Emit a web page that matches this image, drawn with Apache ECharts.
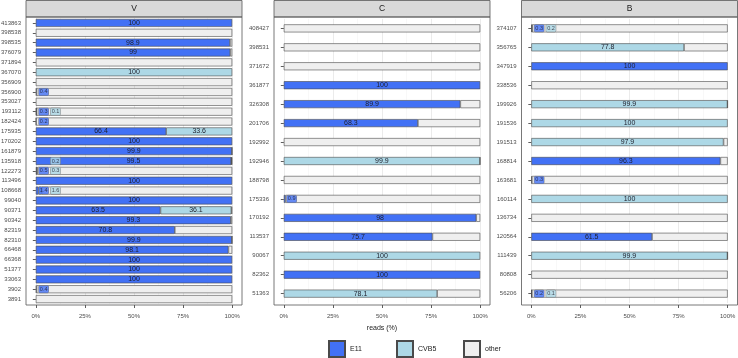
<!DOCTYPE html>
<html>
<head>
<meta charset="utf-8">
<script src="https://cdn.jsdelivr.net/npm/echarts@6/dist/echarts.min.js"></script>
<style>
  html, body { margin: 0; padding: 0; background: #fff; }
  #chart { width: 738px; height: 358px; }
</style>
</head>
<body>
<div id="chart"></div>
<script>
// facet V
const vCats = ['413863', '398538', '398535', '376079', '371894', '367070', '356909', '356900', '353027',
  '193112', '182424', '175935', '170202', '161879', '135918', '122273', '113496', '108668', '99040',
  '90371', '90342', '82319', '82310', '66468', '66368', '51377', '33063', '3902', '3891'];
const vE11 = [100, 0, 98.9, 99, 0, 0, 0, 0.4, 0, 0.3, 0.2, 66.4, 100, 99.9, 99.5, 0.5, 100, 1.4, 100,
  63.5, 99.3, 70.8, 99.9, 98.1, 100, 100, 100, 0.4, 0];
const vCvb5 = [0, 0, 0, 0, 0, 100, 0, 0, 0, 0.1, 0, 33.6, 0, 0, 0.2, 0.3, 0, 1.6, 0,
  36.1, 0, 0, 0, 0, 0, 0, 0, 0, 0];

// facet C
const cCats = ['408427', '398531', '371672', '361877', '326308', '201706', '192992', '192946',
  '188798', '175336', '170192', '113537', '90067', '82362', '51363'];
const cE11 = [0, 0, 0, 100, 89.9, 68.3, 0, 0, 0, 0.9, 98, 75.7, 0, 100, 0];
const cCvb5 = [0, 0, 0, 0, 0, 0, 0, 99.9, 0, 0, 0, 0, 100, 0, 78.1];

// facet B
const bCats = ['374107', '356765', '347919', '338536', '199926', '191536', '191513', '168814',
  '163681', '160114', '136734', '120564', '111439', '80808', '56206'];
const bE11 = [0.3, 0, 100, 0, 0, 0, 0, 96.3, 0.3, 0, 0, 61.5, 0, 0, 0.2];
const bCvb5 = [0.2, 77.8, 0, 0, 99.9, 100, 97.9, 0, 0, 100, 0, 0, 99.9, 0, 0.1];

const facetNames = ['V', 'C', 'B'];

const COL_E11 = '#4271F5';
const COL_CVB5 = '#ADD8E6';
const COL_OTHER = '#EFEFEF';
const BORDER = '#4a4a4a';

// panel boxes in px (left, right); bars span 0..100 inside with 5% padding
const panels = [
  { left: 26, right: 242 },
  { left: 274, right: 490 },
  { left: 521.5, right: 737.5 },
];
const panelTop = 17;
const panelBottom = 305;

const facets = [
  { cats: vCats, e11: vE11, cvb5: vCvb5 },
  { cats: cCats, e11: cE11, cvb5: cCvb5 },
  { cats: bCats, e11: bE11, cvb5: bCvb5 },
];

const grids = [];
const xAxes = [];
const yAxes = [];
const series = [];
const graphics = [];

function nz(v) {
  return v > 0 ? v : '-';
}

function bigLabel(p) {
  return p.value >= 5 ? String(p.value) : '';
}

facets.forEach((f, i) => {
  const pan = panels[i];
  const w = pan.right - pan.left;
  const pxPerUnit = w / 110;
  const n = f.cats.length;
  const h = panelBottom - panelTop;
  const pad = h * 0.1 / (n + 0.2);

  grids.push({
    left: pan.left + 5 * pxPerUnit,
    width: 100 * pxPerUnit,
    top: panelTop + pad,
    height: h - 2 * pad,
    containLabel: false,
    outerBoundsMode: 'none',
  });

  xAxes.push({
    type: 'value',
    gridIndex: i,
    min: 0,
    max: 100,
    interval: 25,
    offset: pad,
    axisLine: { show: false },
    axisTick: { show: true, length: 3, lineStyle: { color: '#333', width: 0.8 } },
    axisLabel: { formatter: '{value}%', fontSize: 6, color: '#4d4d4d', margin: 8, fontFamily: 'Liberation Sans' },
    splitLine: { show: true, lineStyle: { color: '#ebebeb', width: 1 } },
    minorTick: { show: false, splitNumber: 2 },
    minorSplitLine: { show: true, lineStyle: { color: '#f4f4f4', width: 0.6 } },
    name: i === 1 ? 'reads (%)' : '',
    nameLocation: 'middle',
    nameGap: 20,
    nameTextStyle: { fontSize: 7, color: '#1a1a1a', fontFamily: 'Liberation Sans' },
  });

  yAxes.push({
    type: 'category',
    gridIndex: i,
    data: f.cats,
    inverse: true,
    offset: 5 * pxPerUnit,
    axisLine: { show: false },
    axisTick: { show: true, length: 3, alignWithLabel: true, lineStyle: { color: '#333', width: 0.8 } },
    axisLabel: { fontSize: 6, color: '#4d4d4d', margin: 5, fontFamily: 'Liberation Sans' },
    splitLine: { show: false },
  });

  const other = f.cats.map((c, k) => Math.max(0, Math.round((100 - f.e11[k] - f.cvb5[k]) * 10) / 10));
  const barStyle = (col) => ({ color: col, borderColor: BORDER, borderWidth: 0.6 });
  const lbl = {
    show: true,
    position: 'inside',
    formatter: bigLabel,
    fontSize: 7,
    color: '#1e1e2a',
    fontFamily: 'Liberation Sans',
  };

  series.push({
    name: 'E11', type: 'bar', stack: 'f' + i, xAxisIndex: i, yAxisIndex: i,
    barWidth: 8, data: f.e11.map(nz), itemStyle: barStyle(COL_E11), label: lbl,
  });
  series.push({
    name: 'CVB5', type: 'bar', stack: 'f' + i, xAxisIndex: i, yAxisIndex: i,
    barWidth: 8, data: f.cvb5.map(nz), itemStyle: barStyle(COL_CVB5), label: lbl,
  });
  series.push({
    name: 'other', type: 'bar', stack: 'f' + i, xAxisIndex: i, yAxisIndex: i,
    barWidth: 8, data: other.map(nz), itemStyle: barStyle(COL_OTHER), label: { show: false },
  });

  // small values get boxed labels at fixed spots
  const smallLbl = (col) => ({
    show: true,
    position: 'inside',
    formatter: (p) => String(p.value[2]),
    fontSize: 5.5,
    color: '#1e1e2a',
    backgroundColor: col,
    borderColor: '#777',
    borderWidth: 0.5,
    borderRadius: 1,
    padding: [0.5, 1],
    fontFamily: 'Liberation Sans',
  });
  const smallE = [];
  const smallC = [];
  f.cats.forEach((c, k) => {
    if (f.e11[k] > 0 && f.e11[k] < 5) smallE.push([4, c, f.e11[k]]);
    if (f.cvb5[k] > 0 && f.cvb5[k] < 5) smallC.push([10, c, f.cvb5[k]]);
  });
  series.push({
    type: 'scatter', xAxisIndex: i, yAxisIndex: i, symbolSize: 0, z: 5,
    data: smallE, label: smallLbl(COL_E11), silent: true,
  });
  series.push({
    type: 'scatter', xAxisIndex: i, yAxisIndex: i, symbolSize: 0, z: 5,
    data: smallC, label: smallLbl(COL_CVB5), silent: true,
  });

  // strip and panel border
  graphics.push({
    type: 'rect',
    shape: { x: pan.left, y: 0.5, width: w, height: panelTop - 0.5 },
    style: { fill: '#d9d9d9', stroke: '#555', lineWidth: 0.8 },
    z: 10,
  });
  graphics.push({
    type: 'text',
    x: pan.left + w / 2,
    y: 9,
    style: { text: facetNames[i], fontSize: 8.5, fill: '#1a1a1a', textAlign: 'center', textVerticalAlign: 'middle', fontFamily: 'Liberation Sans' },
    z: 11,
  });
  graphics.push({
    type: 'rect',
    shape: { x: pan.left, y: panelTop, width: w, height: panelBottom - panelTop },
    style: { fill: 'none', stroke: '#555', lineWidth: 0.8 },
    z: 10,
  });
});

const legendBase = {
  top: 340,
  padding: 0,
  itemWidth: 16,
  itemHeight: 16,
  icon: 'rect',
  textStyle: { fontSize: 7, color: '#1a1a1a', fontFamily: 'Liberation Sans' },
  selectedMode: false,
};

const option = {
  animation: false,
  backgroundColor: '#fff',
  grid: grids,
  xAxis: xAxes,
  yAxis: yAxes,
  series: series,
  legend: [
    Object.assign({}, legendBase, { data: ['E11'], left: 328 }),
    Object.assign({}, legendBase, { data: ['CVB5'], left: 396 }),
    Object.assign({}, legendBase, { data: ['other'], left: 463 }),
  ],
  graphic: graphics,
};

const myChart = echarts.init(document.getElementById('chart'));
myChart.setOption(option);
</script>
</body>
</html>
